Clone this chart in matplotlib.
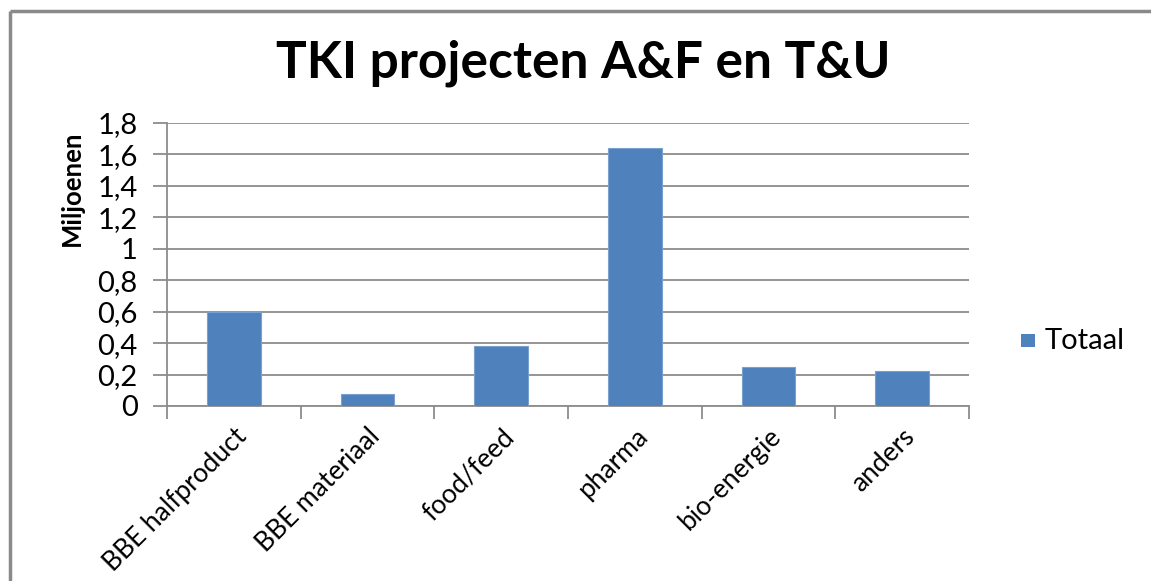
import matplotlib
matplotlib.use("Agg")
import matplotlib.pyplot as plt
from matplotlib.patches import Rectangle
from matplotlib.lines import Line2D
from matplotlib.ticker import FuncFormatter

categories = ["BBE halfproduct", "BBE materiaal", "food/feed", "pharma", "bio-energie", "anders"]
totaal = [0.60, 0.075, 0.38, 1.64, 0.25, 0.22]
yticks = [0, 0.2, 0.4, 0.6, 0.8, 1.0, 1.2, 1.4, 1.6, 1.8]
series_name = "Totaal"
title = "TKI projecten A&F en T&U"
ylabel = "Miljoenen"

plt.rcParams['font.family'] = ['Lato', 'DejaVu Sans']

W, H = 1151, 581
fig = plt.figure(figsize=(W / 100, H / 100), dpi=100)
fig.patch.set_facecolor("white")

# plot area in pixels: x 167..969, y 123..406
left, right, top, bottom = 167, 969, 123, 406
ax = fig.add_axes([left / W, 1 - bottom / H, (right - left) / W, (bottom - top) / H])

bar_color = "#4f81bd"
x = list(range(len(categories)))
ax.bar(x, totaal, width=0.4, color=bar_color, edgecolor="#7aa0d0", linewidth=0.8, zorder=3)

ax.set_xlim(-0.5, len(categories) - 0.5)
ax.set_ylim(0, 1.8)
ax.set_yticks(yticks)
ax.yaxis.set_major_formatter(FuncFormatter(lambda v, p: ("%g" % round(v, 1)).replace(".", ",")))
ax.grid(axis="y", color="#8c8c8c", linewidth=1.3, zorder=0)

gray = "#8c8c8c"
for s in ["top", "right"]:
    ax.spines[s].set_visible(False)
for s in ["left", "bottom"]:
    ax.spines[s].set_color(gray)
    ax.spines[s].set_linewidth(1.3)

ax.tick_params(axis="y", direction="out", length=10, width=1.3, color=gray,
               labelsize=21, pad=11)
ax.set_xticks([i - 0.5 for i in range(len(categories) + 1)], minor=False)
ax.set_xticklabels([])
ax.tick_params(axis="x", which="major", direction="out", length=9, width=1.3, color=gray)
ax.set_xticks(x, minor=True)
ax.set_xticklabels(categories, minor=True, rotation=45, ha="right", va="top",
                   rotation_mode="anchor", fontsize=19)
ax.tick_params(axis="x", which="minor", length=0, pad=13)

fig.text(583 / W, 1 - 63 / H, title, ha="center", va="center",
         fontsize=37, fontweight="bold")
fig.text(72 / W, 1 - 188 / H, ylabel, ha="center", va="center", rotation=90,
         fontsize=18.5, fontweight="bold")

# legend
fig.patches.append(Rectangle((1021 / W, 1 - 347 / H), 14 / W, 13 / H,
                             transform=fig.transFigure, facecolor=bar_color,
                             edgecolor="none"))
fig.text(1045 / W, 1 - 341 / H, series_name, ha="left", va="center", fontsize=21)

# outer frame (top and left)
fig.lines.append(Line2D([9.5 / W, 9.5 / W], [0, 1 - 11 / H], transform=fig.transFigure,
                        color="#8a8a8a", linewidth=2.5, solid_capstyle="butt"))
fig.lines.append(Line2D([9.5 / W, 1], [1 - 11 / H, 1 - 11 / H], transform=fig.transFigure,
                        color="#8a8a8a", linewidth=2.5, solid_capstyle="butt"))

fig.savefig("out.png", dpi=100, facecolor="white")
